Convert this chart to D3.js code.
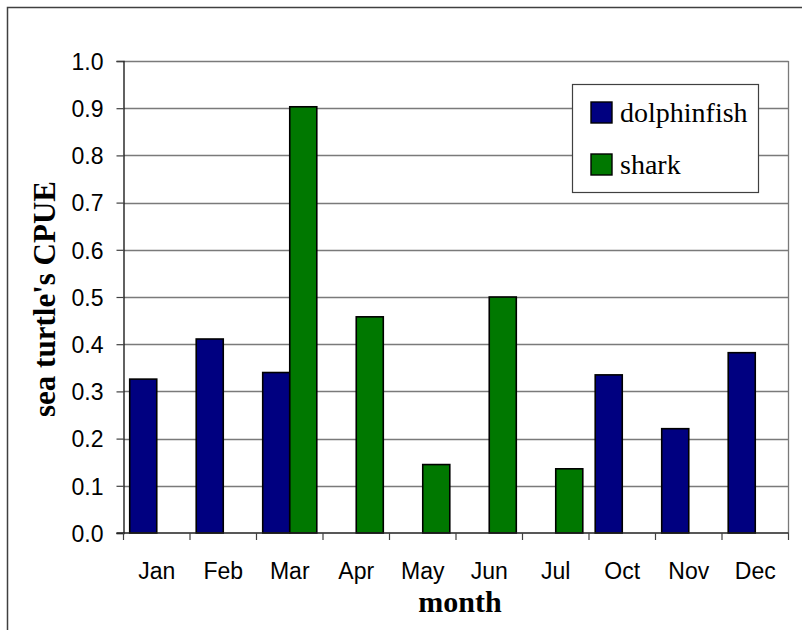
<!DOCTYPE html>
<html>
<head>
<meta charset="utf-8">
<script src="https://cdn.jsdelivr.net/npm/d3@7"></script>
<style>
	body { margin: 0; background: #fff; }
	svg { display: block; }
</style>
</head>
<body>
<svg id="chart" width="802" height="630"></svg>
<script>
var months = ['Jan', 'Feb', 'Mar', 'Apr', 'May', 'Jun', 'Jul', 'Oct', 'Nov', 'Dec'];
var seriesNames = ['dolphinfish', 'shark'];
var dolphinfish = [0.326, 0.411, 0.340, 0, 0, 0, 0, 0.335, 0.221, 0.382];
var shark = [0, 0, 0.903, 0.458, 0.145, 0.500, 0.136, 0, 0, 0];
var yTicks = [0, 0.1, 0.2, 0.3, 0.4, 0.5, 0.6, 0.7, 0.8, 0.9, 1.0];
var colors = ['#000080', '#007800'];

var SANS = '"Liberation Sans", Arial, sans-serif',
	SERIF = '"Liberation Serif", "Times New Roman", serif';

var svg = d3.select('#chart');

var plot = { left: 123.5, right: 788.5, top: 61, bottom: 533 };

var x = d3.scaleBand()
	.domain(months)
	.range([plot.left, plot.right])
	.paddingInner(0)
	.paddingOuter(0);

var xInner = d3.scaleBand()
	.domain(seriesNames)
	.range([0, x.bandwidth()])
	.paddingInner(0)
	.paddingOuter(0.23);

var y = d3.scaleLinear()
	.domain([0, 1])
	.range([plot.bottom, plot.top]);

// outer chart frame (runs off the bottom/right of the picture)
svg.append('rect')
	.attr('x', 7.5)
	.attr('y', 7.5)
	.attr('width', 820)
	.attr('height', 660)
	.attr('fill', 'none')
	.attr('stroke', '#404040')
	.attr('stroke-width', 1.5);

// gridlines
svg.append('g')
	.selectAll('line')
	.data(yTicks.slice(1))
	.enter().append('line')
	.attr('x1', plot.left)
	.attr('x2', plot.right)
	.attr('y1', function(d) { return Math.round(y(d)) + 0.5; })
	.attr('y2', function(d) { return Math.round(y(d)) + 0.5; })
	.attr('stroke', '#7a7a7a')
	.attr('stroke-width', 1.3);

// right border of plot area
svg.append('line')
	.attr('x1', plot.right)
	.attr('x2', plot.right)
	.attr('y1', plot.top)
	.attr('y2', plot.bottom)
	.attr('stroke', '#7a7a7a')
	.attr('stroke-width', 1.3);

// bars
var rows = months.map(function(m, i) {
	return { month: m, values: [dolphinfish[i], shark[i]] };
});

var groups = svg.append('g')
	.selectAll('g')
	.data(rows)
	.enter().append('g')
	.attr('transform', function(d) { return 'translate(' + x(d.month) + ',0)'; });

groups.selectAll('rect')
	.data(function(d) {
		return d.values.map(function(v, i) { return { name: seriesNames[i], value: v, color: colors[i] }; })
			.filter(function(b) { return b.value > 0; });
	})
	.enter().append('rect')
	.attr('x', function(d) { return xInner(d.name); })
	.attr('y', function(d) { return y(d.value); })
	.attr('width', xInner.bandwidth())
	.attr('height', function(d) { return y(0) - y(d.value); })
	.attr('fill', function(d) { return d.color; })
	.attr('stroke', '#000')
	.attr('stroke-width', 1.6);

// y axis
var yAxis = d3.axisLeft(y)
	.tickValues(yTicks)
	.tickSize(7)
	.tickPadding(13)
	.tickFormat(d3.format('.1f'));

var yAxisG = svg.append('g')
	.attr('transform', 'translate(' + plot.left + ',0)')
	.call(yAxis)
	.attr('font-family', SANS)
	.attr('font-size', 23);
yAxisG.select('.domain').attr('stroke', '#202020').attr('stroke-width', 1.4);
yAxisG.selectAll('.tick line').attr('stroke', '#404040').attr('stroke-width', 1.2);
yAxisG.selectAll('.tick text')
	.attr('fill', '#000')
	.attr('dy', '0.36em');

// x axis: baseline, ticks at category boundaries, labels in the middle
var xAxisG = svg.append('g');
xAxisG.append('line')
	.attr('x1', plot.left - 7)
	.attr('x2', plot.right)
	.attr('y1', y(0))
	.attr('y2', y(0))
	.attr('stroke', '#202020')
	.attr('stroke-width', 1.4);

var bounds = months.map(function(m) { return x(m); }).concat([plot.right]);
xAxisG.selectAll('line.tick')
	.data(bounds)
	.enter().append('line')
	.attr('class', 'tick')
	.attr('x1', function(d) { return d; })
	.attr('x2', function(d) { return d; })
	.attr('y1', y(0))
	.attr('y2', y(0) + 7)
	.attr('stroke', '#404040')
	.attr('stroke-width', 1.2);

xAxisG.selectAll('text')
	.data(months)
	.enter().append('text')
	.attr('font-family', SANS)
	.attr('font-size', 23)
	.attr('x', function(d) { return x(d) + x.bandwidth() / 2; })
	.attr('y', 579)
	.attr('text-anchor', 'middle')
	.text(function(d) { return d; });

// axis titles
svg.append('text')
	.attr('font-family', SERIF)
	.attr('font-weight', 'bold')
	.attr('font-size', 30)
	.attr('x', 460)
	.attr('y', 612)
	.attr('text-anchor', 'middle')
	.text('month');

svg.append('text')
	.attr('font-family', SERIF)
	.attr('font-weight', 'bold')
	.attr('font-size', 31)
	.attr('transform', 'translate(55,' + ((plot.top + plot.bottom) / 2 + 2) + ') rotate(-90)')
	.attr('text-anchor', 'middle')
	.text("sea turtle's CPUE");

// legend
var legend = svg.append('g').attr('transform', 'translate(572,84)');
legend.append('rect')
	.attr('x', 0.5)
	.attr('y', 0.5)
	.attr('width', 186)
	.attr('height', 108)
	.attr('fill', '#fff')
	.attr('stroke', '#404040')
	.attr('stroke-width', 1.2);

var items = legend.selectAll('g.item')
	.data(seriesNames)
	.enter().append('g')
	.attr('class', 'item')
	.attr('transform', function(d, i) { return 'translate(19,' + (18 + i * 52) + ')'; });

items.append('rect')
	.attr('width', 21)
	.attr('height', 21)
	.attr('fill', function(d, i) { return colors[i]; })
	.attr('stroke', '#000')
	.attr('stroke-width', 1.4);

items.append('text')
	.attr('font-family', SERIF)
	.attr('font-size', 28)
	.attr('x', 29)
	.attr('y', 20)
	.text(function(d) { return d; });
</script>
</body>
</html>
